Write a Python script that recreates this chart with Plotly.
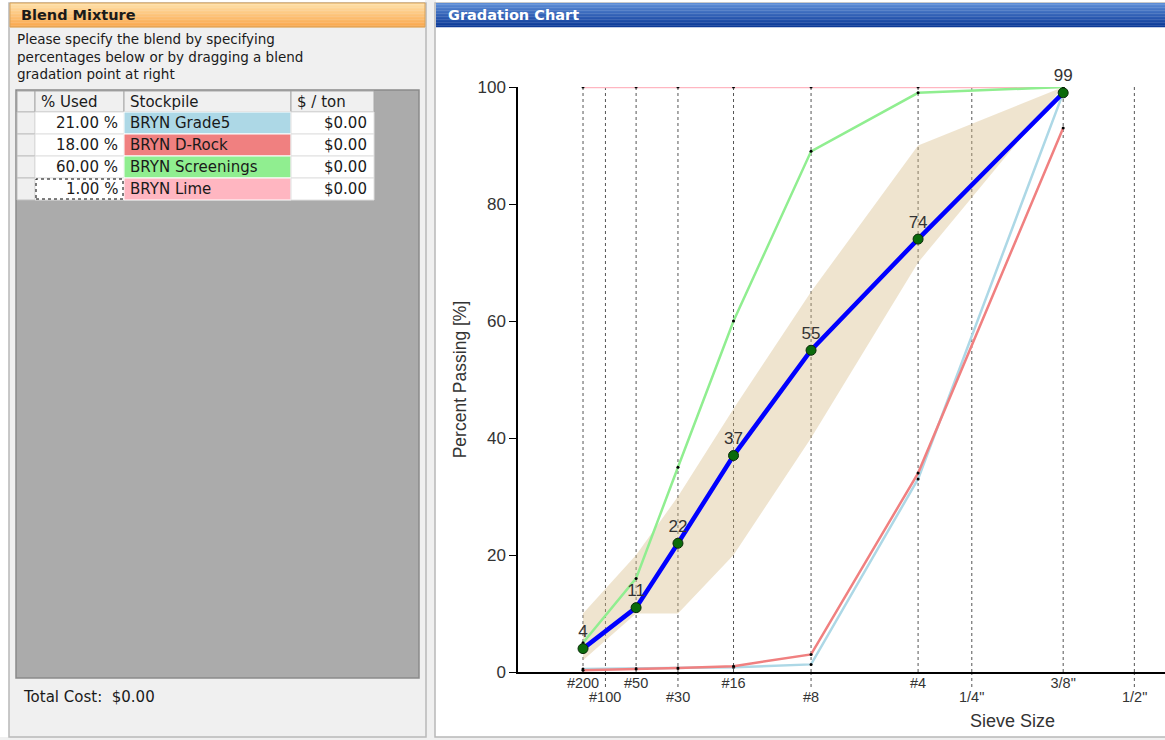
import numpy as np
import plotly.graph_objects as go

W, H = 1165, 740

# ---------------- data ----------------
sieve_labels = ['#200', '#100', '#50', '#30', '#16', '#8', '#4', '1/4"', '3/8"', '1/2"']
sieve_mm = [0.075, 0.15, 0.3, 0.6, 1.18, 2.36, 4.75, 6.3, 9.5, 12.5]
label_row = [0, 1, 0, 1, 0, 1, 0, 1, 0, 1]

test_sieves = ['#200', '#50', '#30', '#16', '#8', '#4', '3/8"']
test_mm = [0.075, 0.3, 0.6, 1.18, 2.36, 4.75, 9.5]

grade5 = [0.5, 0.6, 0.6, 0.8, 1.3, 33, 99]
drock = [0.3, 0.5, 0.7, 1.0, 3.0, 34, 93]
screenings = [5, 16, 35, 60, 89, 99, 100]
lime = [100, 100, 100, 100, 100, 100, 100]
blend = [4, 11, 22, 37, 55, 74, 99]

spec_lower = [2, 10, 10, 20, 40, 70, 100]
spec_upper = [10, 20, 30, 45, 65, 90, 100]

stockpiles = ['BRYN Grade5', 'BRYN D-Rock', 'BRYN Screenings', 'BRYN Lime']
pct_used = [21.00, 18.00, 60.00, 1.00]
cost_per_ton = [0.00, 0.00, 0.00, 0.00]
total_cost = 0.00

y_ticks = [0, 20, 40, 60, 80, 100]

instructions = ['Please specify the blend by specifying',
                'percentages below or by dragging a blend',
                'gradation point at right']

# ---------------- styling ----------------
stock_colors = ['#ADD8E6', '#F08080', '#90EE90', '#FFB6C1']
POW = 0.45  # gradation chart (0.45 power) x scale


def sx(mm):
    return np.power(np.asarray(mm, dtype=float), POW)


def X(px):
    return px / W


def Y(py):
    return 1 - py / H


CHART_FONT = 'Liberation Sans, Arial, sans-serif'
UI_FONT = 'DejaVu Sans, Verdana, sans-serif'
TXT = '#333333'

shapes = []
annotations = []


def rect(x0, y0, x1, y1, fill, line=None, lw=1, dash=None):
    d = dict(type='rect', xref='paper', yref='paper', x0=X(x0), x1=X(x1),
             y0=Y(y1), y1=Y(y0), fillcolor=fill, layer='below',
             line=dict(width=0 if line is None else lw, color=line or fill))
    if dash:
        d['line']['dash'] = dash
    shapes.append(d)


def gradient(x0, y0, x1, y1, c0, c1, n=16):
    h = (y1 - y0) / n
    for i in range(n):
        t = i / (n - 1)
        c = tuple(int(round(a + (b - a) * t)) for a, b in zip(c0, c1))
        rect(x0, y0 + i * h, x1, y0 + (i + 1) * h + 0.3, 'rgb(%d,%d,%d)' % c)


def text(x, y, s, size=13, color='#1a1a1a', anchor='left', family=UI_FONT, bold=False):
    annotations.append(dict(xref='paper', yref='paper', x=X(x), y=Y(y), text=('<b>%s</b>' % s) if bold else s,
                            showarrow=False, xanchor=anchor, yanchor='middle', align='left',
                            font=dict(size=size, color=color, family=family)))


# ---------------- window chrome ----------------
rect(425, 0, 436, H, '#F0F0F0')
rect(0, 737, W, H, '#F0F0F0')
# left panel
rect(9, 3, 426, 737, '#F0F0F0', '#B8B8B8', 1.5)
gradient(10, 3, 425, 27, (255, 224, 168), (250, 168, 78))
rect(10, 3, 425, 27, 'rgba(0,0,0,0)', '#D9A35A', 1)
text(19, 15, 'Blend Mixture', size=14.5, bold=True)
text(15, 56, '<br>'.join(instructions), size=13.5)

# table
rect(16, 90, 419, 678, '#ABABAB', '#8A8A8A', 1.5)
cols = [17, 35, 124, 291, 374]
hdr_top, hdr_bot, row_h = 91, 112, 22
for j in range(4):
    rect(cols[j], hdr_top, cols[j + 1], hdr_bot, '#F0F0F0', '#A8A8A8', 1)
text(39, 102, '% Used', size=15)
text(128, 102, 'Stockpile', size=15)
text(295, 102, '$ / ton', size=15)
for i in range(len(stockpiles)):
    y0 = hdr_bot + i * row_h
    y1 = y0 + row_h
    rect(cols[0], y0, cols[1], y1, '#F0F0F0', '#C0C0C0', 1)
    rect(cols[1], y0, cols[2], y1, '#FFFFFF', '#E0E0E0', 1)
    rect(cols[2], y0, cols[3], y1, stock_colors[i], '#FFFFFF', 1)
    rect(cols[3], y0, cols[4], y1, '#FFFFFF', '#E0E0E0', 1)
    yc = (y0 + y1) / 2
    text(120, yc, '%.2f %%' % pct_used[i], size=15, anchor='right')
    text(128, yc, stockpiles[i], size=15)
    text(369, yc, '$%.2f' % cost_per_ton[i], size=15, anchor='right')
last_y0 = hdr_bot + (len(stockpiles) - 1) * row_h
rect(cols[1] + 1, last_y0 + 1, cols[2] - 1, last_y0 + row_h - 1, 'rgba(0,0,0,0)', '#000000', 1, dash='dot')
text(21, 697, 'Total Cost:  $%.2f' % total_cost, size=15)

# right panel
rect(435, 3, W + 2, 737, '#FFFFFF', '#B8B8B8', 1.5)
gradient(436, 3, W, 27, (92, 140, 214), (12, 58, 152))
text(446, 15, 'Gradation Chart', size=14.5, color='#FFFFFF', bold=True)

# ---------------- sieve grid lines & lower-row sieve labels ----------------
xs_all = sx(sieve_mm)
for xv, row, lab in zip(xs_all, label_row, sieve_labels):
    shapes.append(dict(type='line', xref='x', yref='y', x0=xv, x1=xv, y0=0, y1=100,
                       layer='below', line=dict(color='#555555', width=1, dash='dot')))
    if row == 1:
        shapes.append(dict(type='line', xref='x', yref='paper', x0=xv, x1=xv, y0=Y(672), y1=Y(689),
                           layer='below', line=dict(color='#555555', width=1, dash='dot')))
        annotations.append(dict(xref='x', yref='paper', x=xv, y=Y(697), text=lab, showarrow=False,
                                xanchor='center', yanchor='middle',
                                font=dict(size=14.5, color=TXT, family=CHART_FONT)))

# ---------------- traces ----------------
xt = sx(test_mm)
fig = go.Figure()
fig.add_trace(go.Scatter(x=np.concatenate([xt, xt[::-1]]),
                         y=list(spec_upper) + list(spec_lower[::-1]),
                         fill='toself', fillcolor='rgba(214,184,130,0.38)',
                         line=dict(width=0), mode='lines', hoverinfo='skip', showlegend=False))

for name, vals, col in [('BRYN Lime', lime, stock_colors[3]),
                        ('BRYN Screenings', screenings, stock_colors[2]),
                        ('BRYN Grade5', grade5, stock_colors[0]),
                        ('BRYN D-Rock', drock, stock_colors[1])]:
    fig.add_trace(go.Scatter(x=xt, y=vals, name=name, mode='lines+markers',
                             line=dict(color=col, width=2.5),
                             marker=dict(color='#000000', size=3), showlegend=False))

fig.add_trace(go.Scatter(x=xt, y=blend, name='Blend', mode='lines+markers+text',
                         line=dict(color='#0000FF', width=4.5),
                         marker=dict(color='#0B6B0B', size=10, line=dict(color='#0A2A0A', width=1)),
                         text=[str(v) for v in blend], textposition='top center',
                         textfont=dict(size=17, color=TXT, family=CHART_FONT),
                         cliponaxis=False, showlegend=False))

# ---------------- axes ----------------
tick_text = [l if r == 0 else '' for l, r in zip(sieve_labels, label_row)]
fig.update_layout(
    autosize=True,
    margin=dict(l=0, r=0, t=0, b=0, autoexpand=False),
    paper_bgcolor='#FFFFFF', plot_bgcolor='rgba(0,0,0,0)',
    shapes=shapes, annotations=annotations + [
        dict(xref='paper', yref='paper', x=X(1012), y=Y(721), text='Sieve Size', showarrow=False,
             xanchor='center', yanchor='middle', font=dict(size=18, color=TXT, family=CHART_FONT))],
    xaxis=dict(domain=[X(518), 1], range=[-0.019, 3.272], showline=True, linecolor='#000000',
               linewidth=1.5, showgrid=False, zeroline=False, ticks='',
               tickvals=list(xs_all), ticktext=tick_text, tickangle=0,
               tickfont=dict(size=14.5, color=TXT, family=CHART_FONT), ticklabelstandoff=-3),
    yaxis=dict(domain=[Y(672), Y(87)], range=[0, 100], showline=True, linecolor='#000000',
               linewidth=1.5, showgrid=False, zeroline=False, ticks='outside', ticklen=7,
               tickwidth=1.2, tickcolor='#000000', tickvals=y_ticks,
               tickfont=dict(size=17, color=TXT, family=CHART_FONT),
               title=dict(text='Percent Passing [%]', font=dict(size=17.5, color=TXT, family=CHART_FONT),
                          standoff=6)),
    hovermode=False,
)

fig.write_html('out.html', config={'displayModeBar': False, 'responsive': True},
               default_width='100vw', default_height='100vh',
               post_script="document.documentElement.style.margin='0';"
                           "document.body.style.margin='0';document.body.style.padding='0';"
                           "document.body.style.overflow='hidden';"
                           "var d=document.getElementById('{plot_id}');"
                           "d.style.position='fixed';d.style.top='0px';d.style.left='0px';"
                           "Plotly.Plots.resize(d);")
